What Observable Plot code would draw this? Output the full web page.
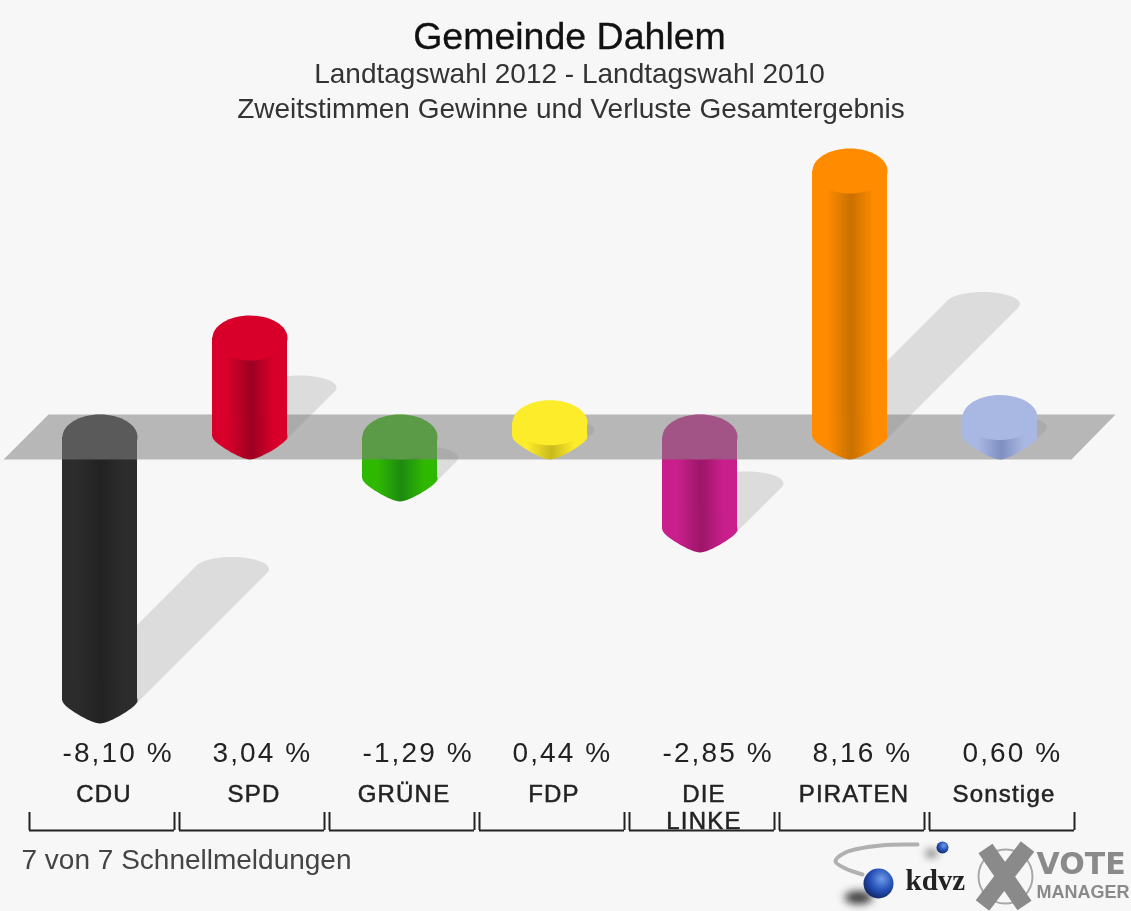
<!DOCTYPE html>
<html><head><meta charset="utf-8">
<style>html,body{margin:0;padding:0;background:#f7f7f7}svg{display:block;filter:blur(0.5px)}
.vals text,.vals{letter-spacing:2.1px}
.names text,.names{letter-spacing:1.2px}
</style>
<script src="https://cdn.jsdelivr.net/npm/d3@7"></script>
<script src="https://cdn.jsdelivr.net/npm/@observablehq/plot@0.6"></script>
</head><body><div id="chart"></div>
<script>
// ---- data
const parties = ["CDU","SPD","GRÜNE","FDP","DIE LINKE","PIRATEN","Sonstige"];
const values = [-8.10,3.04,-1.29,0.44,-2.85,8.16,0.60];
const valueLabels = ["-8,10 %","3,04 %","-1,29 %","0,44 %","-2,85 %","8,16 %","0,60 %"];
const partyLines = [["CDU"],["SPD"],["GRÜNE"],["FDP"],["DIE","LINKE"],["PIRATEN"],["Sonstige"]];
const capColors = ["#2c2c2c","#d8002a","#2fb800","#fdec2a","#c91f8c","#ff8c00","#a9b8e2"];
const midColors = ["#222222","#9c0020","#1c8a10","#c9b91c","#9c1668","#c87000","#7f8fc0"];
const titleLines = ["Landtagswahl 2012 - Landtagswahl 2010","Zweitstimmen Gewinne und Verluste Gesamtergebnis"];

// ---- geometry in scale terms
const W = 1131, H = 911, PXX = 150, PXY = 32.6, X0 = 99.5, Y0 = 436.5;
const ux = p => (p - X0) / PXX, uy = p => (Y0 - p) / PXY;
const ellipse = (k, low = 0.5523) => ({draw(c, size){
  const rx = Math.sqrt(size / Math.PI), ry = rx * k, m = 0.5523;
  c.moveTo(-rx, 0);
  c.bezierCurveTo(-rx, -ry*m, -rx*m, -ry, 0, -ry);
  c.bezierCurveTo(rx*m, -ry, rx, -ry*m, rx, 0);
  c.bezierCurveTo(rx, ry*low, rx*low, ry, 0, ry);
  c.bezierCurveTo(-rx*low, ry, -rx, ry*low, -rx, 0);
  c.closePath();
}});
const bars = values.map((v,i)=>({i,v,cap:capColors[i],grad:`url(#g${i})`}));
const neg = bars.filter(d=>d.v<0), pos = bars.filter(d=>d.v>=0);
// shadow: a flat ellipse swept at 45 degrees from the bar's lower end, half the bar's length
const SRX = 37, SRY = 12;
const tanX = SRX*SRX/Math.hypot(SRX,SRY)/PXX, tanY = SRY*SRY/Math.hypot(SRX,SRY)/PXY;
const shadowEnds = bars.map(d=>{
  const len = Math.abs(d.v)*0.5, y = Math.min(d.v,0);
  return {id:d.i,x0:d.i,y0:y,x:d.i+len*PXY/PXX,y:y+len};
});
const shadows = shadowEnds.flatMap(d=>[
  {id:d.id,x:d.x0-tanX,y:d.y0+tanY},
  {id:d.id,x:d.x-tanX,y:d.y+tanY},
  {id:d.id,x:d.x+tanX,y:d.y-tanY},
  {id:d.id,x:d.x0+tanX,y:d.y0-tanY}
]);
const band = [
  {x:ux(3),y:uy(459)},{x:ux(48),y:uy(414)},{x:ux(1115),y:uy(414)},{x:ux(1071),y:uy(459)}
];

const defs = () => {
  const d = d3.create("svg:defs");
  bars.forEach(b=>{
    const g = d.append("linearGradient").attr("id",`g${b.i}`);
    [[0,capColors[b.i]],[0.2,capColors[b.i]],[0.52,midColors[b.i]],[0.82,capColors[b.i]],[1,capColors[b.i]]]
      .forEach(([o,c])=>g.append("stop").attr("offset",o).attr("stop-color",c));
  });
  const r = d.append("radialGradient").attr("id","ball").attr("cx",0.6).attr("cy",0.35).attr("r",0.7);
  [[0,"#6f9be8"],[0.55,"#2450b8"],[1,"#10255e"]].forEach(([o,c])=>r.append("stop").attr("offset",o).attr("stop-color",c));
  return d.node();
};

const barMarks = set => [
  Plot.rect(set,{x1:d=>d.i-0.25,x2:d=>d.i+0.25,y1:d=>Math.min(d.v,0),y2:d=>Math.max(d.v,0),fill:"grad"}),
  Plot.dot(set,{x:"i",y:d=>Math.min(d.v,0),r:37.5,symbol:ellipse(0.6,0.25),fill:"grad",stroke:"none"}),
  Plot.dot(set,{x:"i",y:d=>Math.max(d.v,0),r:37.5,symbol:ellipse(0.6),fill:"cap",stroke:"none"})
];

const sans = "Liberation Sans, Arial, sans-serif";
const tx = (text,px,py,opts={}) => Plot.text([text],{x:ux(px),y:uy(py),text:d=>d,fontFamily:sans,fill:"#222",lineAnchor:"bottom",...opts});

const bracketL = i=>i+ux(29), bracketR = i=>i+ux(174);
const idx = d3.range(parties.length);
const yTick = uy(812), yBase = uy(830);

const chart = Plot.plot({
  width:W,height:H,margin:0,
  style:{background:"#f7f7f7"},
  x:{domain:[ux(0),ux(W)],axis:null},
  y:{domain:[uy(H),uy(0)],axis:null},
  color:{type:"identity"},
  r:{type:"identity"},
  marks:[
    defs,
    // shadows
    Plot.line(shadows,{x:"x",y:"y",z:"id",fill:"#dcdcdc",stroke:"none",curve:"linear-closed"}),
    Plot.dot(shadowEnds,{x:"x",y:"y",r:SRX,symbol:ellipse(SRY/SRX),fill:"#dcdcdc",stroke:"none"}),
    // negative bars sit under the translucent band
    ...barMarks(neg),
    Plot.line(band,{x:"x",y:"y",fill:"#828282",fillOpacity:0.54,stroke:"none",curve:"linear-closed"}),
    ...barMarks(pos),
    // titles
    tx("Gemeinde Dahlem",569,48,{fontSize:37.5,fill:"#111",textAnchor:"middle",stroke:"#111",strokeWidth:0.3}),
    tx(titleLines[0],569,82,{fontSize:28,fill:"#333",textAnchor:"middle"}),
    tx(titleLines[1],570.5,117,{fontSize:28,fill:"#333",textAnchor:"middle"}),
    // value labels
    Plot.text(idx,{x:i=>i-0.25,y:uy(761),text:i=>valueLabels[i],textAnchor:"start",lineAnchor:"bottom",fontFamily:sans,fontSize:28,fill:"#222",className:"vals"}),
    // party labels
    Plot.text(idx.flatMap(i=>partyLines[i].map((t,l)=>({i,t,l}))),{
      x:d=>d.i+ux(103.5),y:d=>uy(801+d.l*27),text:"t",textAnchor:"middle",lineAnchor:"bottom",
      fontFamily:sans,fontSize:24,fill:"#222",stroke:"#222",strokeWidth:0.5,className:"names"}),
    // brackets
    Plot.ruleY(idx,{x1:bracketL,x2:bracketR,y:yBase,stroke:"#222",strokeWidth:2}),
    Plot.ruleX(idx,{x:bracketL,y1:yBase,y2:yTick,stroke:"#222",strokeWidth:2}),
    Plot.ruleX(idx,{x:bracketR,y1:yBase,y2:yTick,stroke:"#222",strokeWidth:2}),
    // footer
    tx("7 von 7 Schnellmeldungen",21,868,{fontSize:28,fill:"#444",textAnchor:"start"}),
    // logo
    Plot.line([[917,844],[880,845],[845,852],[835,861],[845,868],[862,874]],{x:d=>ux(d[0]),y:d=>uy(d[1]),stroke:"#b0b0b0",strokeWidth:4,curve:"catmull-rom"}),
    Plot.dot([[858,897],[931,853]],{x:d=>ux(d[0]),y:d=>uy(d[1]),r:d=>d[0]<900?14:6,symbol:ellipse(0.45),fill:"#333",stroke:"none",imageFilter:"blur(4px)"}),
    Plot.dot([[878,883],[942,847]],{x:d=>ux(d[0]),y:d=>uy(d[1]),r:d=>d[0]<900?15:6,fill:"url(#ball)",stroke:"none"}),
    tx("kdvz",905,889,{fontFamily:"Liberation Serif, serif",fontWeight:"bold",fontSize:29,fill:"#222",textAnchor:"start"}),
    Plot.dot([[1005,876]],{x:d=>ux(d[0]),y:d=>uy(d[1]),r:27,stroke:"#a8a8a8",strokeWidth:2,fill:"none"}),
    Plot.link([[985,848,1024,905],[1027,846,982,905]],{x1:d=>ux(d[0]),y1:d=>uy(d[1]),x2:d=>ux(d[2]),y2:d=>uy(d[3]),stroke:"#8a8a8a",strokeWidth:17}),
    tx("VOTE",1036,873,{fontFamily:"DejaVu Sans, sans-serif",fontWeight:"bold",fontSize:30,fill:"#8a8a8a",textAnchor:"start"}),
    tx("MANAGER",1036,897,{fontWeight:"bold",fontSize:18,fill:"#8a8a8a",textAnchor:"start"})
  ]
});
document.getElementById("chart").append(chart);
</script></body></html>
